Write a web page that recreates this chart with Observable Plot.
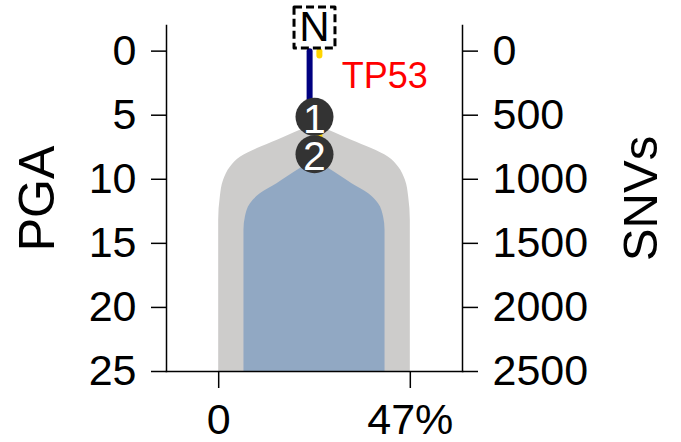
<!DOCTYPE html>
<html>
<head>
<meta charset="utf-8">
<script src="https://cdn.jsdelivr.net/npm/d3@7"></script>
<script src="https://cdn.jsdelivr.net/npm/@observablehq/plot@0.6"></script>
<style>
  html, body { margin: 0; padding: 0; background: #fff; }
  #chart { width: 681px; height: 442px; }
</style>
</head>
<body>
<div id="chart"></div>
<script>
// ---- data ----
const pgaTicks = [0, 5, 10, 15, 20, 25];
const snvTicks = [0, 500, 1000, 1500, 2000, 2500];
const xTicks = [0, 47];
const xTickLabels = ["0", "47%"];
const centerX = 23.5;

// outer (grey) clone: depth (PGA) vs half-width (%)
const outerDepth = [5.72, 6.17, 6.95, 7.60, 8.26, 9.04, 10.08, 11.38, 13.2, 25];
const outerHalf  = [0, 3.5, 9.1, 14.0, 18.1, 20.6, 22.3, 23.1, 23.5, 23.5];
// inner (blue) clone
const innerDepth = [8.48, 9.16, 10.34, 11.13, 11.9, 12.95, 13.98, 25];
const innerHalf  = [0, 3.5, 9.2, 13.3, 15.7, 16.95, 17.3, 17.3];

// tree nodes
const nodeLabels = ["1", "2"];
const nodePga = [5.13, 8.05];
const rootLabel = "N";
const rootPga = -1.84;

// tree edges
const edgeX    = [22.3, 24.7, 24.7];
const edgeFrom = [0, 0, 5.13];
const edgeTo   = [5.13, 0.35, 8.05];
const edgeColor = ["#000080", "#ffd500", "#ffd500"];

const driverLabel = "TP53";
const driverX = 30.2;
const driverPga = 2.0;

// ---- build tables ----
const outer = outerDepth.map((d, i) => ({d, h: outerHalf[i]}));
const inner = innerDepth.map((d, i) => ({d, h: innerHalf[i]}));
const nodes = nodeLabels.map((t, i) => ({t, y: nodePga[i]}));
const edges = edgeX.map((x, i) => ({x, y1: edgeFrom[i], y2: edgeTo[i], c: edgeColor[i]}));

const font = "Liberation Sans, Arial, sans-serif";

const chart = Plot.plot({
  width: 681,
  height: 442,
  marginLeft: 166,
  marginRight: 219,
  marginTop: 25,
  marginBottom: 71,
  style: {fontFamily: font, background: "#fff", overflow: "visible"},
  x: {domain: [-12.8, 59.8], axis: null},
  y: {domain: [-2, 25], reverse: true, axis: null},
  marks: [
    Plot.areaX(outer, {y: "d", x1: d => centerX - d.h, x2: d => centerX + d.h, fill: "#cdcccb", curve: "monotone-y"}),
    Plot.areaX(inner, {y: "d", x1: d => centerX - d.h, x2: d => centerX + d.h, fill: "#91a8c3", curve: "monotone-y"}),
    Plot.link(edges, {x1: "x", x2: "x", y1: "y1", y2: "y2", stroke: "c", strokeWidth: 6, strokeLinecap: "round"}),
    Plot.dot([rootPga], {x: () => centerX, y: d => d, symbol: "square", r: 23.1, fill: "white", stroke: "black", strokeWidth: 3, strokeDasharray: "8,4", strokeLinejoin: "round"}),
    Plot.text([rootLabel], {x: () => centerX, y: () => rootPga, text: d => d, fontSize: 42, fill: "black"}),
    Plot.dot(nodes, {x: () => centerX, y: "y", r: 19, fill: "#333333"}),
    Plot.text(nodes, {x: () => centerX, y: "y", text: "t", fontSize: 41, fill: "white", dy: 3}),
    Plot.text([driverLabel], {x: () => driverX, y: () => driverPga, text: d => d, fontSize: 36, fill: "#ff0000", textAnchor: "start"}),
    Plot.frame({anchor: "left", strokeWidth: 1.5}),
    Plot.frame({anchor: "right", strokeWidth: 1.5}),
    Plot.frame({anchor: "bottom", strokeWidth: 1.5}),
    Plot.axisY(pgaTicks, {anchor: "left", tickSize: 15, tickPadding: 15, fontSize: 43, strokeWidth: 1.5, label: null, tickFormat: d => String(d)}),
    Plot.axisY(pgaTicks, {anchor: "right", tickSize: 15, tickPadding: 15, fontSize: 43, strokeWidth: 1.5, label: null, tickFormat: d => String(snvTicks[pgaTicks.indexOf(d)])}),
    Plot.axisX(xTicks, {anchor: "bottom", tickSize: 17, tickPadding: 15, fontSize: 43, strokeWidth: 1.5, label: null, tickFormat: d => xTickLabels[xTicks.indexOf(d)]}),
    Plot.text(["PGA"], {frameAnchor: "left", rotate: -90, dx: -129, textAnchor: "middle", lineAnchor: "middle", fontSize: 50, fill: "black"}),
    Plot.text(["SNVs"], {frameAnchor: "right", rotate: -90, dx: 179, textAnchor: "middle", lineAnchor: "middle", fontSize: 49, fill: "black"})
  ]
});
document.getElementById("chart").appendChild(chart);
</script>
</body>
</html>
